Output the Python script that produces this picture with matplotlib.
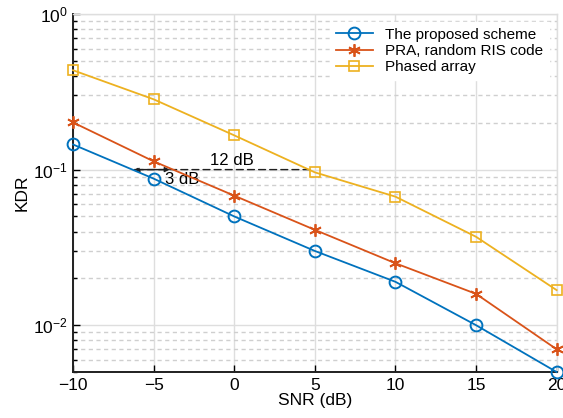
import matplotlib.pyplot as plt
from matplotlib.ticker import LogLocator, NullFormatter
import numpy as np

plt.rcParams['font.family'] = ['Liberation Sans', 'DejaVu Sans']
plt.rcParams['mathtext.fontset'] = 'custom'
plt.rcParams['mathtext.rm'] = 'Liberation Sans'

snr = [-10, -5, 0, 5, 10, 15, 20]
kdr_proposed = [0.145, 0.0875, 0.050, 0.030, 0.019, 0.010, 0.005]
kdr_pra = [0.201, 0.113, 0.068, 0.041, 0.025, 0.0159, 0.007]
kdr_phased = [0.435, 0.283, 0.166, 0.096, 0.067, 0.037, 0.0168]

labels = ['The proposed scheme', 'PRA, random RIS code', 'Phased array']
colors = ['#0072BD', '#D95319', '#EDB120']

fig = plt.figure(figsize=(5.63, 4.18), dpi=100)
ax = fig.add_axes([0.1297, 0.110, 0.859, 0.8565])

ax.semilogy(snr, kdr_proposed, '-o', color=colors[0], lw=1.3, ms=8.5,
            mfc='none', mew=1.4, label=labels[0], clip_on=False, zorder=5)
ax.semilogy(snr, kdr_pra, '-', marker=(6, 2, 0), color=colors[1], lw=1.3, ms=9,
            mfc='none', mew=1.3, label=labels[1], clip_on=False, zorder=5)
ax.semilogy(snr, kdr_phased, '-s', color=colors[2], lw=1.3, ms=7,
            mfc='none', mew=1.2, label=labels[2], clip_on=False, zorder=5)

ax.set_xlim(-10, 20)
ax.set_ylim(5e-3, 1)
ax.set_xticks([-10, -5, 0, 5, 10, 15, 20])
ax.set_xticklabels(['\u221210', '\u22125', '0', '5', '10', '15', '20'])
ax.yaxis.set_minor_locator(LogLocator(base=10, subs=np.arange(2, 10)))
ax.yaxis.set_minor_formatter(NullFormatter())

ax.grid(True, which='major', color='#dedede', lw=1.0, ls='-')
ax.grid(True, which='minor', axis='y', color='#cfcfcf', lw=1.0, ls=(0, (3, 2.5)))
ax.set_axisbelow(True)

ax.tick_params(which='both', direction='in', labelsize=12.5, top=False, right=False)
ax.tick_params(which='major', length=5, width=1.0, pad=4)
ax.tick_params(which='minor', length=3, width=1.0)
for s in ['left', 'bottom']:
    ax.spines[s].set_linewidth(1.4)
    ax.spines[s].set_color('#202020')
for s in ['top', 'right']:
    ax.spines[s].set_color('#dedede')
    ax.spines[s].set_linewidth(1.0)

ax.set_xlabel('SNR (dB)', fontsize=12.5, labelpad=0)
ax.set_ylabel('KDR', fontsize=12.5, labelpad=2)

# dB gap annotations
ax.annotate('', xy=(-6.2, 0.1), xytext=(4.7, 0.1),
            arrowprops=dict(arrowstyle='-|>', color='#202020', lw=1.0,
                            ls=(0, (5, 3)), mutation_scale=7, shrinkA=0, shrinkB=0))
ax.annotate('', xy=(-4.0, 0.1), xytext=(-6.2, 0.1),
            arrowprops=dict(arrowstyle='-|>', color='#202020', lw=1.0,
                            mutation_scale=7, shrinkA=0, shrinkB=0))
ax.text(-1.5, 0.103, '12 dB', fontsize=12, ha='left', va='bottom')
ax.text(-4.3, 0.087, '3 dB', fontsize=12, ha='left', va='center')

leg = ax.legend(loc='upper right', fontsize=11, frameon=True, fancybox=False,
                edgecolor='white', framealpha=1, borderaxespad=0.5,
                handlelength=2.4, labelspacing=0.15)

fig.savefig('out.png', dpi=100)
